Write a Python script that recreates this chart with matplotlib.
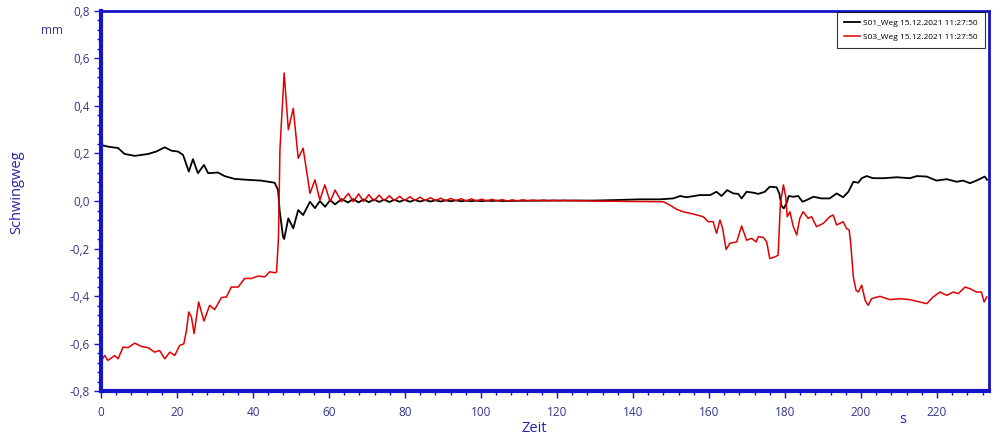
import numpy as np
import matplotlib
matplotlib.use('Agg')
import matplotlib.pyplot as plt

# S01_Weg (black), time in s and displacement in mm
t_s01 = [0.0, 1.8, 4.5, 6.2, 8.9, 12.4, 14.5, 16.8, 18.5, 20.3, 21.6, 22.2, 23.1, 24.2, 25.5,
         27.1, 28.2, 30.8, 32.5, 35.2, 38.7, 42.1, 45.7, 46.6, 47.0, 47.9, 48.2, 49.3, 50.6,
         51.9, 53.2, 55.0, 56.3, 57.6, 59.0, 60.3, 61.6, 63.3, 65.0,
         66.4, 67.8, 69.1, 70.5, 71.8, 73.2, 74.5, 75.9, 77.2, 78.6, 79.9, 81.3, 82.6, 84.0,
         85.3, 86.7, 88.0, 89.4, 90.7, 92.1, 93.4, 94.8, 96.1, 97.5, 98.8, 100.2, 101.5, 102.9,
         104.2, 105.6, 110.0, 120.0, 130.0, 135.0, 141.8, 147.1, 150.6, 152.4, 154.1, 157.6,
         160.3, 162.0, 163.3, 164.8, 166.4, 167.7, 168.6, 169.9, 171.7, 173.0, 174.7, 176.0,
         177.8, 178.5, 179.1, 179.7, 180.4, 181.0, 182.2, 183.5, 184.6, 185.7, 187.5, 189.6,
         191.8, 193.6, 195.3, 196.7, 198.0, 199.3, 200.2, 201.5, 203.2, 205.9, 209.4, 212.9,
         214.7, 217.3, 219.9, 222.6, 225.2, 226.9, 228.7, 230.4, 232.6, 233.2]
v_s01 = [0.236, 0.229, 0.223, 0.198, 0.190, 0.198, 0.208, 0.226, 0.212, 0.208, 0.194, 0.166, 0.124, 0.176, 0.117,
         0.152, 0.117, 0.120, 0.105, 0.093, 0.089, 0.086, 0.077, 0.046, -0.038, -0.150, -0.160, -0.073, -0.115,
         -0.038, -0.059, -0.003, -0.030, 0.000, -0.024, 0.004, -0.014, 0.008, -0.006,
         0.008, -0.006, 0.007, -0.005, 0.007, -0.004, 0.006, -0.004, 0.005, -0.003, 0.005, -0.003, 0.004, -0.002,
         0.004, -0.002, 0.003, -0.002, 0.003, -0.001, 0.003, -0.001, 0.002, -0.001, 0.002, -0.001, 0.002, 0.000,
         0.002, 0.000, 0.001, 0.002, 0.002, 0.004, 0.007, 0.007, 0.011, 0.021, 0.016, 0.025,
         0.025, 0.039, 0.021, 0.046, 0.032, 0.030, 0.011, 0.039, 0.035, 0.030, 0.039, 0.060,
         0.058, 0.032, -0.021, -0.031, -0.010, 0.021, 0.018, 0.021, -0.003, 0.004, 0.018, 0.011,
         0.011, 0.032, 0.016, 0.039, 0.081, 0.077, 0.096, 0.105, 0.096, 0.096, 0.100, 0.096,
         0.105, 0.103, 0.086, 0.092, 0.081, 0.086, 0.075, 0.086, 0.103, 0.089]

# S03_Weg (red)
t_s03 = [0.1, 1.0, 1.8, 3.6, 4.5, 5.8, 7.1, 8.9, 10.6, 12.4, 14.1, 15.4, 16.8, 18.1, 19.4, 20.7,
         21.8, 22.5, 23.1, 23.8, 24.5, 25.7, 27.1, 28.6, 29.9, 31.7, 33.0, 34.3, 36.1, 37.8, 39.6,
         41.3, 43.1, 44.4, 45.9, 46.2, 46.7, 47.1, 48.2, 49.3, 50.6, 51.9, 53.2, 55.0, 56.3, 57.6,
         58.9, 60.3, 61.6, 63.3, 65.1,
         66.4, 67.8, 69.1, 70.5, 71.8, 73.2, 74.5, 75.9, 77.2, 78.6, 79.9, 81.3, 82.6, 84.0,
         85.3, 86.7, 88.0, 89.4, 90.7, 92.1, 93.4, 94.8, 96.1, 97.5, 98.8, 100.2, 101.5, 102.9,
         104.2, 105.6, 106.9, 108.3, 109.6, 111.0, 112.3, 113.7, 115.0, 116.4, 117.7, 119.1,
         120.4, 121.8, 123.1, 124.5, 130.0, 140.0, 148.0, 149.7, 151.5, 153.2, 155.9, 158.5,
         159.8, 161.1, 162.0, 162.9, 163.6, 164.5, 165.5, 167.3, 168.6, 169.9, 171.2, 172.4,
         173.0, 174.3, 175.2, 176.0, 177.4, 178.2, 178.8, 179.6, 180.2, 180.6, 181.3, 182.2,
         183.1, 183.9, 184.8, 186.1, 187.0, 188.3, 190.1, 191.8, 192.7, 193.6, 195.3, 196.2,
         196.9, 197.3, 198.0, 198.7, 199.3, 200.2, 201.1, 201.9, 202.8, 205.0, 207.6, 210.3,
         212.9, 215.5, 217.3, 219.0, 220.8, 222.6, 224.3, 225.6, 227.4, 228.7, 230.4, 231.7,
         232.4, 233.1]
v_s03 = [-0.671, -0.650, -0.671, -0.650, -0.664, -0.615, -0.617, -0.598, -0.612, -0.617, -0.636, -0.629, -0.664, -0.636, -0.650, -0.608,
         -0.601, -0.544, -0.467, -0.488, -0.558, -0.425, -0.505, -0.439, -0.457, -0.406, -0.404, -0.362, -0.362, -0.326, -0.326,
         -0.316, -0.319, -0.298, -0.302, -0.298, -0.157, 0.220, 0.539, 0.300, 0.390, 0.180, 0.222, 0.032, 0.089, 0.004,
         0.068, -0.003, 0.046, -0.003, 0.032,
         -0.003, 0.030, -0.002, 0.027, 0.000, 0.025, 0.001, 0.022, 0.002, 0.020, 0.002, 0.018, 0.003, 0.016,
         0.002, 0.014, 0.002, 0.012, 0.001, 0.011, 0.001, 0.010, 0.000, 0.009, 0.000, 0.008, 0.000, 0.007,
         0.000, 0.006, 0.000, 0.005, 0.000, 0.005, 0.001, 0.004, 0.001, 0.004, 0.001, 0.003,
         0.001, 0.003, 0.001, 0.002, 0.000, -0.002, -0.003, -0.017, -0.035, -0.045, -0.055, -0.066,
         -0.087, -0.087, -0.136, -0.080, -0.115, -0.204, -0.178, -0.172, -0.105, -0.165, -0.157, -0.172,
         -0.150, -0.153, -0.172, -0.242, -0.235, -0.228, -0.010, 0.068, 0.018, -0.066, -0.045, -0.108,
         -0.143, -0.073, -0.045, -0.073, -0.066, -0.108, -0.094, -0.066, -0.059, -0.101, -0.087, -0.115,
         -0.122, -0.178, -0.319, -0.375, -0.383, -0.354, -0.418, -0.439, -0.411, -0.401, -0.415, -0.411,
         -0.415, -0.425, -0.432, -0.404, -0.383, -0.397, -0.383, -0.390, -0.362, -0.369, -0.383, -0.383,
         -0.425, -0.404]

y_ticks = [-0.8, -0.6, -0.4, -0.2, 0.0, 0.2, 0.4, 0.6, 0.8]
y_labels = ['-0,8', '-0,6', '-0,4', '-0,2', '0,0', '0,2', '0,4', '0,6', '0,8']
x_ticks = [0, 20, 40, 60, 80, 100, 120, 140, 160, 180, 200, 220]

legend_labels = ['S01_Weg 15.12.2021 11:27:50', 'S03_Weg 15.12.2021 11:27:50']

plt.rcParams['font.family'] = ['Open Sans', 'DejaVu Sans']

spine_col = '#1414c8'
tick_col = '#34348c'
label_col = '#2424a8'

fig = plt.figure(figsize=(10, 4.37), dpi=100)
ax = fig.add_axes([0.101, 0.105, 0.888, 0.870])

ax.plot(t_s01, v_s01, color='black', lw=1.3, label=legend_labels[0])
ax.plot(t_s03, v_s03, color='#e00000', lw=1.1, label=legend_labels[1])

ax.set_xlim(0, 233.7)
ax.set_ylim(-0.8, 0.8)
ax.set_yticks(y_ticks)
ax.set_yticklabels(y_labels)
ax.set_xticks(x_ticks)
ax.set_xticks(np.arange(0, 234, 4), minor=True)
ax.set_yticks(np.arange(-0.8, 0.81, 0.04), minor=True)

for side in ['left', 'bottom']:
    ax.spines[side].set_linewidth(3)
for side in ['top', 'right']:
    ax.spines[side].set_linewidth(2)
for s in ax.spines.values():
    s.set_color(spine_col)

ax.tick_params(which='major', length=5, width=1, color=spine_col, labelcolor=tick_col, labelsize=8.5, pad=3)
ax.tick_params(which='minor', length=3, width=1, color=spine_col)
ax.tick_params(axis='x', which='major', pad=6)

fig.text(0.052, 0.931, 'mm', color=tick_col, fontsize=8.5, ha='center', va='center')
fig.text(0.017, 0.56, 'Schwingweg', color=label_col, fontsize=10.5, rotation=90, ha='center', va='center')
fig.text(0.534, 0.02, 'Zeit', color=label_col, fontsize=10.5, ha='center', va='center')
fig.text(0.903, 0.039, 's', color=label_col, fontsize=10.5, ha='center', va='center')

leg = ax.legend(loc='upper right', bbox_to_anchor=(0.9955, 0.998), borderaxespad=0,
                fontsize=6.0, frameon=True, fancybox=False, handlelength=1.9, handletextpad=0.45,
                borderpad=0.85, labelspacing=0.75)
leg.get_frame().set_edgecolor('black')
leg.get_frame().set_linewidth(0.8)

plt.savefig('out.png', dpi=100)
